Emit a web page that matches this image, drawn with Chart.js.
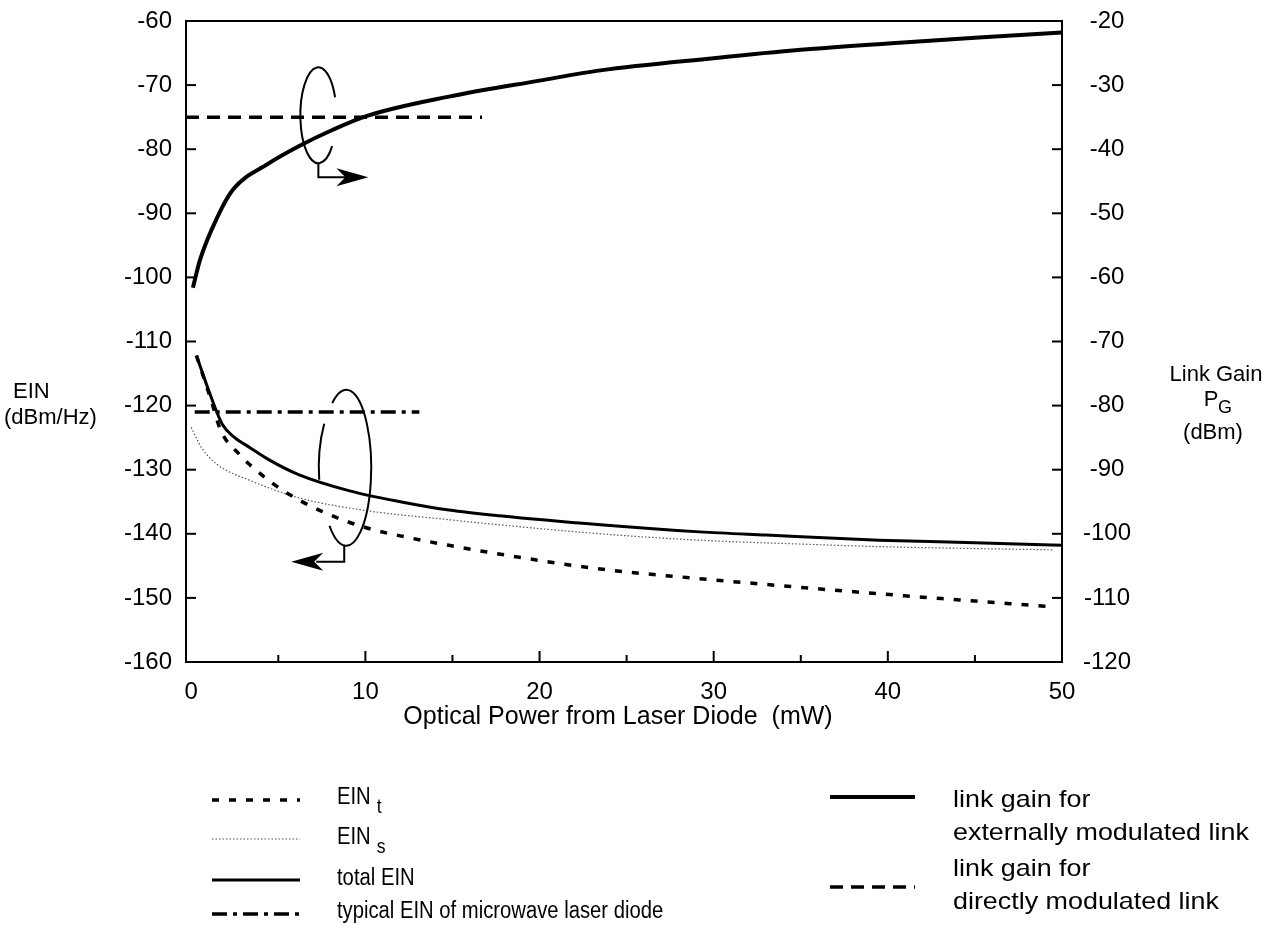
<!DOCTYPE html>
<html lang="en">
<head>
<meta charset="UTF-8">
<title>EIN and link gain vs optical power</title>
<script src="https://cdn.jsdelivr.net/npm/chart.js"></script>
<style>
  body { margin: 0; background: #fff; }
  canvas { display: block; }
</style>
</head>
<body>
<canvas id="grafico" width="1285" height="938"></canvas>
<script>
// tick labels
const xTicks = [0, 10, 20, 30, 40, 50];

// EIN_t (left axis, dBm/Hz)
const xEinT = [0.3, 0.7, 1.1, 1.7, 2.8, 4, 5.3, 7.5, 10.1, 12.5, 14.8, 18, 23.5, 29.2, 33, 39.7, 45, 49.5];
const einT  = [-112.2, -115.5, -118.8, -123.9, -127.7, -130.7, -133.3, -136.5, -139.1, -140.6, -141.8, -143.3, -145.5, -147.0, -147.9, -149.4, -150.5, -151.4];

// EIN_s
const xEinS = [0, 0.6, 1.5, 3.4, 6.2, 10.1, 14.8, 17.7, 23.5, 29.2, 35, 39.5, 45, 49.5];
const einS  = [-123.4, -126.6, -129.2, -131.7, -134.4, -136.4, -137.8, -138.6, -140.0, -141.0, -141.6, -142.0, -142.3, -142.5];

// total EIN
const xTotal = [0.3, 1.0, 1.8, 2.5, 3.4, 4.5, 6.2, 9.1, 12, 14.8, 17.7, 23.5, 29.2, 33, 39.5, 45, 50];
const einTotal = [-112.2, -117.6, -123.0, -125.0, -126.6, -128.5, -130.8, -133.3, -135.0, -136.3, -137.2, -138.6, -139.7, -140.2, -141.0, -141.4, -141.8];

// typical EIN of microwave laser diode
const xTypical = [0.2, 13.1];
const einTypical = [-121, -121];

// link gain, externally modulated (right axis, dBm)
const xExt = [0.1, 0.5, 1.5, 2.4, 4.4, 6.2, 8.1, 10.1, 14.8, 20, 23.5, 30, 35, 40, 45, 50];
const gainExt = [-61.6, -57.3, -50.6, -46.3, -42.3, -39.5, -37.0, -34.8, -31.8, -29.3, -27.7, -25.8, -24.5, -23.5, -22.6, -21.8];

// link gain, directly modulated
const xDirect = [-0.3, 16.7];
const gainDirect = [-35, -35];

const FONT = "'Liberation Sans', Arial, Helvetica, sans-serif";

function pts(xs, ys) {
  return xs.map((x, i) => ({ x: x, y: ys[i] }));
}

const datasets = [
  { label: "EIN_t", data: pts(xEinT, einT), yAxisID: "yL",
    borderColor: "#000", borderWidth: 3.5, borderDash: [7, 10] },
  { label: "EIN_s", data: pts(xEinS, einS), yAxisID: "yL",
    borderColor: "#555", borderWidth: 1.2, borderDash: [1.5, 2] },
  { label: "total EIN", data: pts(xTotal, einTotal), yAxisID: "yL",
    borderColor: "#000", borderWidth: 3, borderDash: [] },
  { label: "typical EIN of microwave laser diode", data: pts(xTypical, einTypical), yAxisID: "yL",
    borderColor: "#000", borderWidth: 3.5, borderDash: [15, 6, 4, 6] },
  { label: "link gain ext", data: pts(xExt, gainExt), yAxisID: "yR",
    borderColor: "#000", borderWidth: 4, borderDash: [] },
  { label: "link gain direct", data: pts(xDirect, gainDirect), yAxisID: "yR",
    borderColor: "#000", borderWidth: 3.5, borderDash: [13, 8] }
];
datasets.forEach(d => {
  d.pointRadius = 0;
  d.fill = false;
  d.cubicInterpolationMode = "monotone";
  d.borderCapStyle = "butt";
});

// annotation loops (centre in data units, sizes in px)
const loopUpper = { x: 7.3, y: -74.7 };
const loopLower = { x: 8.9, y: -129.7 };

function line(ctx, x1, y1, x2, y2) {
  ctx.beginPath(); ctx.moveTo(x1, y1); ctx.lineTo(x2, y2); ctx.stroke();
}

function arrowHead(ctx, tx, ty, dir) {
  const L = 32, h = 9, n = 9;
  ctx.beginPath();
  ctx.moveTo(tx, ty);
  ctx.lineTo(tx - dir * L, ty - h);
  ctx.lineTo(tx - dir * (L - n), ty);
  ctx.lineTo(tx - dir * L, ty + h);
  ctx.closePath();
  ctx.fill();
}

function deg(a) { return a * Math.PI / 180; }

// text squeezed or stretched horizontally
function textW(ctx, str, x, y, sx) {
  ctx.save();
  ctx.translate(x, y);
  ctx.scale(sx, 1);
  ctx.fillText(str, 0, 0);
  const w = ctx.measureText(str).width * sx;
  ctx.restore();
  return w;
}

const extras = {
  id: "extras",
  afterDatasetsDraw(chart) {
    const ctx = chart.ctx;
    const xs = chart.scales.x, yL = chart.scales.yL;
    ctx.save();
    ctx.strokeStyle = "#000";
    ctx.fillStyle = "#000";
    ctx.lineWidth = 2;

    // upper loop -> right axis
    let cx = xs.getPixelForValue(loopUpper.x), cy = yL.getPixelForValue(loopUpper.y);
    ctx.beginPath();
    ctx.ellipse(cx, cy, 18, 48, 0, deg(40), deg(338));
    ctx.stroke();
    ctx.beginPath();
    ctx.moveTo(cx, cy + 48); ctx.lineTo(cx, cy + 62); ctx.lineTo(cx + 30, cy + 62);
    ctx.stroke();
    arrowHead(ctx, cx + 50, cy + 62, 1);

    // lower loop -> left axis
    cx = xs.getPixelForValue(loopLower.x); cy = yL.getPixelForValue(loopLower.y);
    ctx.beginPath();
    ctx.ellipse(cx, cy, 25, 78, 0, deg(236), deg(492));
    ctx.stroke();
    ctx.beginPath();
    ctx.moveTo(cx - 22, cy - 44);
    ctx.quadraticCurveTo(cx - 29, cy - 18, cx - 27, cy + 12);
    ctx.stroke();
    ctx.beginPath();
    ctx.moveTo(cx - 2, cy + 78); ctx.lineTo(cx - 2, cy + 94); ctx.lineTo(cx - 30, cy + 94);
    ctx.stroke();
    arrowHead(ctx, cx - 55, cy + 94, -1);
    ctx.restore();
  },
  afterDraw(chart) {
    const ctx = chart.ctx;
    const a = chart.chartArea;
    const xs = chart.scales.x, yL = chart.scales.yL, yR = chart.scales.yR;
    ctx.save();
    ctx.strokeStyle = "#000";
    ctx.lineWidth = 2;
    line(ctx, a.left - 1, a.top, a.right + 1, a.top);

    // inward tick marks
    yL.ticks.forEach(t => {
      const p = yL.getPixelForValue(t.value);
      line(ctx, a.left, p, a.left + 10, p);
    });
    yR.ticks.forEach(t => {
      const p = yR.getPixelForValue(t.value);
      line(ctx, a.right, p, a.right - 10, p);
    });
    for (let v = 5; v < 50; v += 5) {
      const p = xs.getPixelForValue(v);
      line(ctx, p, a.bottom, p, a.bottom - (v % 10 === 0 ? 11 : 7));
    }

    // axis titles
    ctx.fillStyle = "#000";
    ctx.textBaseline = "middle";
    ctx.font = "22px " + FONT;
    ctx.textAlign = "left";
    ctx.fillText("EIN", 13, 392);
    ctx.fillText("(dBm/Hz)", 4, 418);
    ctx.textAlign = "center";
    ctx.fillText("Link Gain", 1216, 375);
    ctx.fillText("(dBm)", 1213, 433);
    ctx.fillText("P", 1211, 400);
    ctx.font = "18px " + FONT;
    ctx.fillText("G", 1225, 408);
    ctx.font = "25px " + FONT;
    ctx.fillText("Optical Power from Laser Diode  (mW)", 618, 717);

    // legend
    const ds = chart.data.datasets;
    function sample(d, x1, x2, y) {
      ctx.save();
      ctx.strokeStyle = d.borderColor;
      ctx.lineWidth = d.borderWidth;
      ctx.setLineDash(d.borderDash);
      ctx.lineCap = "butt";
      line(ctx, x1, y, x2, y);
      ctx.restore();
    }
    ctx.textAlign = "left";
    const sxL = 0.88, sxR = 1.12;
    function sub(main, s, x, y) {
      ctx.font = "23px " + FONT;
      const w = textW(ctx, main, x, y, sxL);
      ctx.font = "20px " + FONT;
      textW(ctx, s, x + w + 6, y + 9, sxL);
    }
    sample(ds[0], 212, 300, 800);
    sub("EIN", "t", 337, 798);
    sample(ds[1], 212, 300, 839);
    sub("EIN", "s", 337, 838);
    sample(ds[2], 212, 300, 880);
    ctx.font = "23px " + FONT;
    textW(ctx, "total EIN", 337, 879, sxL);
    sample(ds[3], 212, 300, 914);
    textW(ctx, "typical EIN of microwave laser diode", 337, 912, sxL);

    ctx.font = "24px " + FONT;
    sample(ds[4], 830, 915, 797);
    textW(ctx, "link gain for", 953, 800, sxR);
    textW(ctx, "externally modulated link", 953, 833, sxR);
    sample(ds[5], 830, 915, 887);
    textW(ctx, "link gain for", 953, 869, sxR);
    textW(ctx, "directly modulated link", 953, 902, sxR);
    ctx.restore();
  }
};

function noOverflow(s) {
  s.paddingTop = 0; s.paddingBottom = 0; s.paddingLeft = 0; s.paddingRight = 0;
}

const ctx = document.getElementById("grafico").getContext("2d");
const chart = new Chart(ctx, {
  type: "line",
  data: { datasets: datasets },
  options: {
    responsive: false,
    animation: false,
    devicePixelRatio: 1,
    layout: { padding: { top: 21, left: 0, right: 0, bottom: 0 } },
    plugins: { legend: { display: false }, tooltip: { enabled: false } },
    scales: {
      x: {
        type: "linear", min: -0.3, max: 50,
        afterBuildTicks: s => { s.ticks = xTicks.map(v => ({ value: v })); },
        afterFit: s => { s.height = 938 - 662; noOverflow(s); },
        grid: { display: false, drawTicks: false },
        border: { display: true, color: "#000", width: 2 },
        ticks: { color: "#000", padding: 16, font: { family: FONT, size: 24 }, maxRotation: 0 }
      },
      yL: {
        position: "left", min: -160, max: -60,
        afterFit: s => { s.width = 186; noOverflow(s); },
        grid: { display: false, drawTicks: false },
        border: { display: true, color: "#000", width: 2 },
        ticks: { stepSize: 10, color: "#000", padding: 14, font: { family: FONT, size: 24 } }
      },
      yR: {
        position: "right", min: -120, max: -20,
        afterFit: s => { s.width = 1285 - 1062; noOverflow(s); },
        grid: { display: false, drawTicks: false },
        border: { display: true, color: "#000", width: 2 },
        ticks: { stepSize: 10, color: "#000", padding: 21, crossAlign: "center", font: { family: FONT, size: 24 } }
      }
    }
  },
  plugins: [extras]
});
</script>
</body>
</html>
